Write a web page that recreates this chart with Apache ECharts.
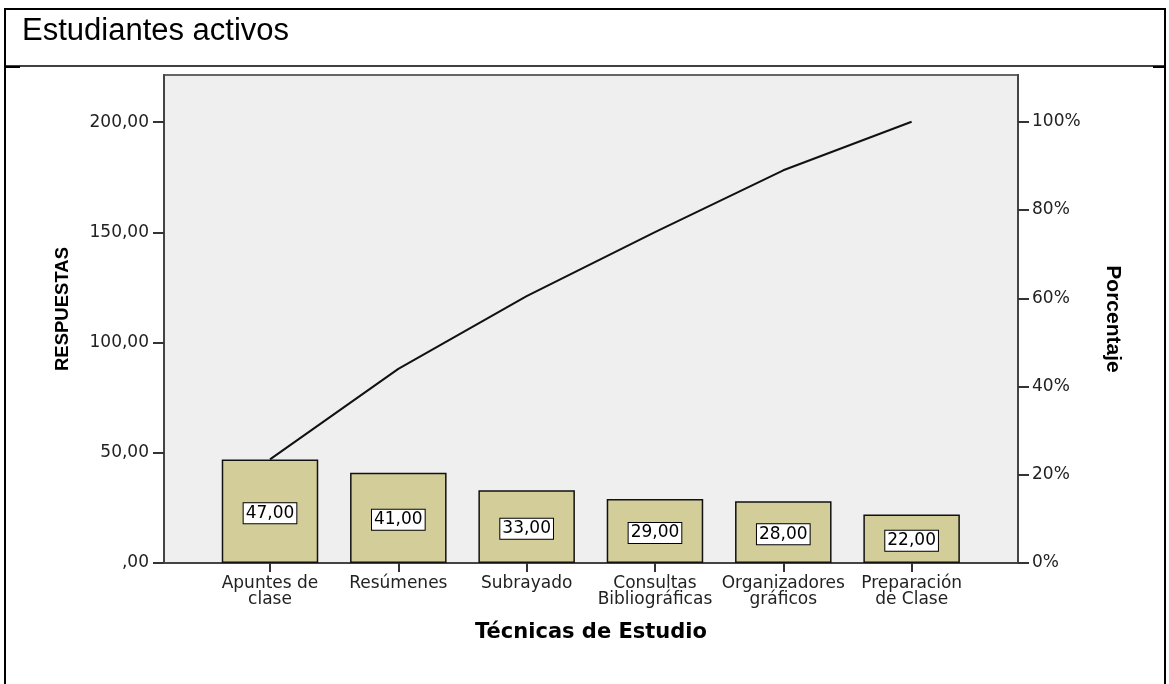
<!DOCTYPE html>
<html>
<head>
<meta charset="utf-8">
<script src="https://cdn.jsdelivr.net/npm/echarts@6/dist/echarts.min.js"></script>
<style>
  html, body { margin: 0; padding: 0; background: #fff; }
  #main { width: 1169px; height: 684px; }
</style>
</head>
<body>
<div id="main"></div>
<script>
// datos del gráfico de Pareto
var categories = ['Apuntes de\nclase', 'Resúmenes', 'Subrayado', 'Consultas\nBibliográficas', 'Organizadores\ngráficos', 'Preparación\nde Clase'];
var respuestas = [47, 41, 33, 29, 28, 22];
var porcentajeAcum = [23.5, 44, 60.5, 75, 89, 100];
var leftTicks = [0, 50, 100, 150, 200];
var rightTicks = [0, 20, 40, 60, 80, 100];
var catIndex = [0, 1, 2, 3, 4, 5];

var tickFont = 'DejaVu Sans';

var comma = function (v) {
    var s = v.toFixed(2).replace('.', ',');
    return s.indexOf('0,') === 0 ? s.slice(1) : s;
};

var chartDom = document.getElementById('main');
var myChart = echarts.init(chartDom);
var option;

option = {
    animation: false,
    title: {
        text: 'Estudiantes activos',
        left: 22,
        top: 16,
        padding: 0,
        textStyle: { fontFamily: 'Liberation Sans', fontSize: 31, fontWeight: 'normal', color: '#000' }
    },
    graphic: [
        { type: 'rect', shape: { x: 5, y: 9, width: 1160, height: 720 }, style: { fill: 'none', stroke: '#000', lineWidth: 2 } },
        { type: 'line', shape: { x1: 5, y1: 66, x2: 1165, y2: 66 }, style: { stroke: '#000', lineWidth: 1.5 } },
        { type: 'line', shape: { x1: 5, y1: 67, x2: 20, y2: 67 }, style: { stroke: '#000', lineWidth: 2 } },
        { type: 'line', shape: { x1: 1153, y1: 67, x2: 1165, y2: 67 }, style: { stroke: '#000', lineWidth: 2 } }
    ],
    grid: {
        left: 164,
        right: 151,
        top: 75,
        bottom: 121,
        show: true,
        backgroundColor: '#efefef',
        borderColor: '#666',
        borderWidth: 2
    },
    xAxis: {
        type: 'value',
        min: -0.826,
        max: 5.829,
        name: 'Técnicas de Estudio',
        nameLocation: 'middle',
        nameGap: 59,
        nameMoveOverlap: false,
        nameTextStyle: { fontFamily: 'DejaVu Sans', fontWeight: 'bold', fontSize: 21, color: '#000' },
        axisLine: { show: true, onZero: false, lineStyle: { color: '#444', width: 2 } },
        axisTick: { show: true, length: 9, customValues: catIndex, lineStyle: { color: '#333', width: 2 } },
        axisLabel: {
            customValues: catIndex,
            margin: 13,
            fontFamily: tickFont,
            fontSize: 17,
            lineHeight: 16,
            color: '#222',
            formatter: function (v) { return categories[Math.round(v)]; }
        },
        splitLine: { show: false }
    },
    yAxis: [
        {
            type: 'value',
            min: 0,
            max: 221.4,
            name: 'RESPUESTAS',
            nameLocation: 'middle',
            nameGap: 92,
            nameMoveOverlap: false,
            nameTextStyle: { fontFamily: 'Liberation Sans', fontWeight: 'bold', fontSize: 18.5, color: '#000', padding: [0, 0, 0, 20] },
            axisLine: { show: true, onZero: false, lineStyle: { color: '#444', width: 2 } },
            axisTick: { show: true, length: 11, customValues: leftTicks, lineStyle: { color: '#333', width: 2 } },
            axisLabel: {
                customValues: leftTicks,
                margin: 15,
                fontFamily: tickFont,
                fontSize: 17,
                color: '#222',
                formatter: function (v) { return comma(v); }
            },
            splitLine: { show: false }
        },
        {
            type: 'value',
            min: 0,
            max: 110.6,
            position: 'right',
            name: 'Porcentaje',
            nameLocation: 'middle',
            nameRotate: -90,
            nameGap: 84,
            nameMoveOverlap: false,
            nameTextStyle: { fontFamily: 'Liberation Sans', fontWeight: 'bold', fontSize: 21, color: '#000' },
            axisLine: { show: true, onZero: false, lineStyle: { color: '#444', width: 2 } },
            axisTick: { show: true, length: 11, customValues: rightTicks, lineStyle: { color: '#333', width: 2 } },
            axisLabel: {
                customValues: rightTicks,
                margin: 14,
                fontFamily: tickFont,
                fontSize: 17,
                color: '#222',
                formatter: function (v) { return v + '%'; }
            },
            splitLine: { show: false }
        }
    ],
    series: [
        {
            name: 'RESPUESTAS',
            type: 'bar',
            barWidth: 96.5,
            data: respuestas.map(function (v, i) { return [catIndex[i], v]; }),
            itemStyle: { color: '#d3ce99', borderColor: '#111', borderWidth: 1.5 },
            label: {
                show: true,
                position: 'inside',
                offset: [0, 2],
                fontFamily: tickFont,
                fontSize: 17,
                color: '#000',
                backgroundColor: '#fff',
                borderColor: '#000',
                borderWidth: 1,
                padding: [2, 2, 1, 2],
                formatter: function (p) { return comma(p.value[1]); }
            }
        },
        {
            name: 'Porcentaje',
            type: 'line',
            yAxisIndex: 1,
            symbol: 'none',
            data: porcentajeAcum.map(function (v, i) { return [catIndex[i], v]; }),
            lineStyle: { color: '#111', width: 2 },
            z: 3
        }
    ]
};

option && myChart.setOption(option);
</script>
</body>
</html>
